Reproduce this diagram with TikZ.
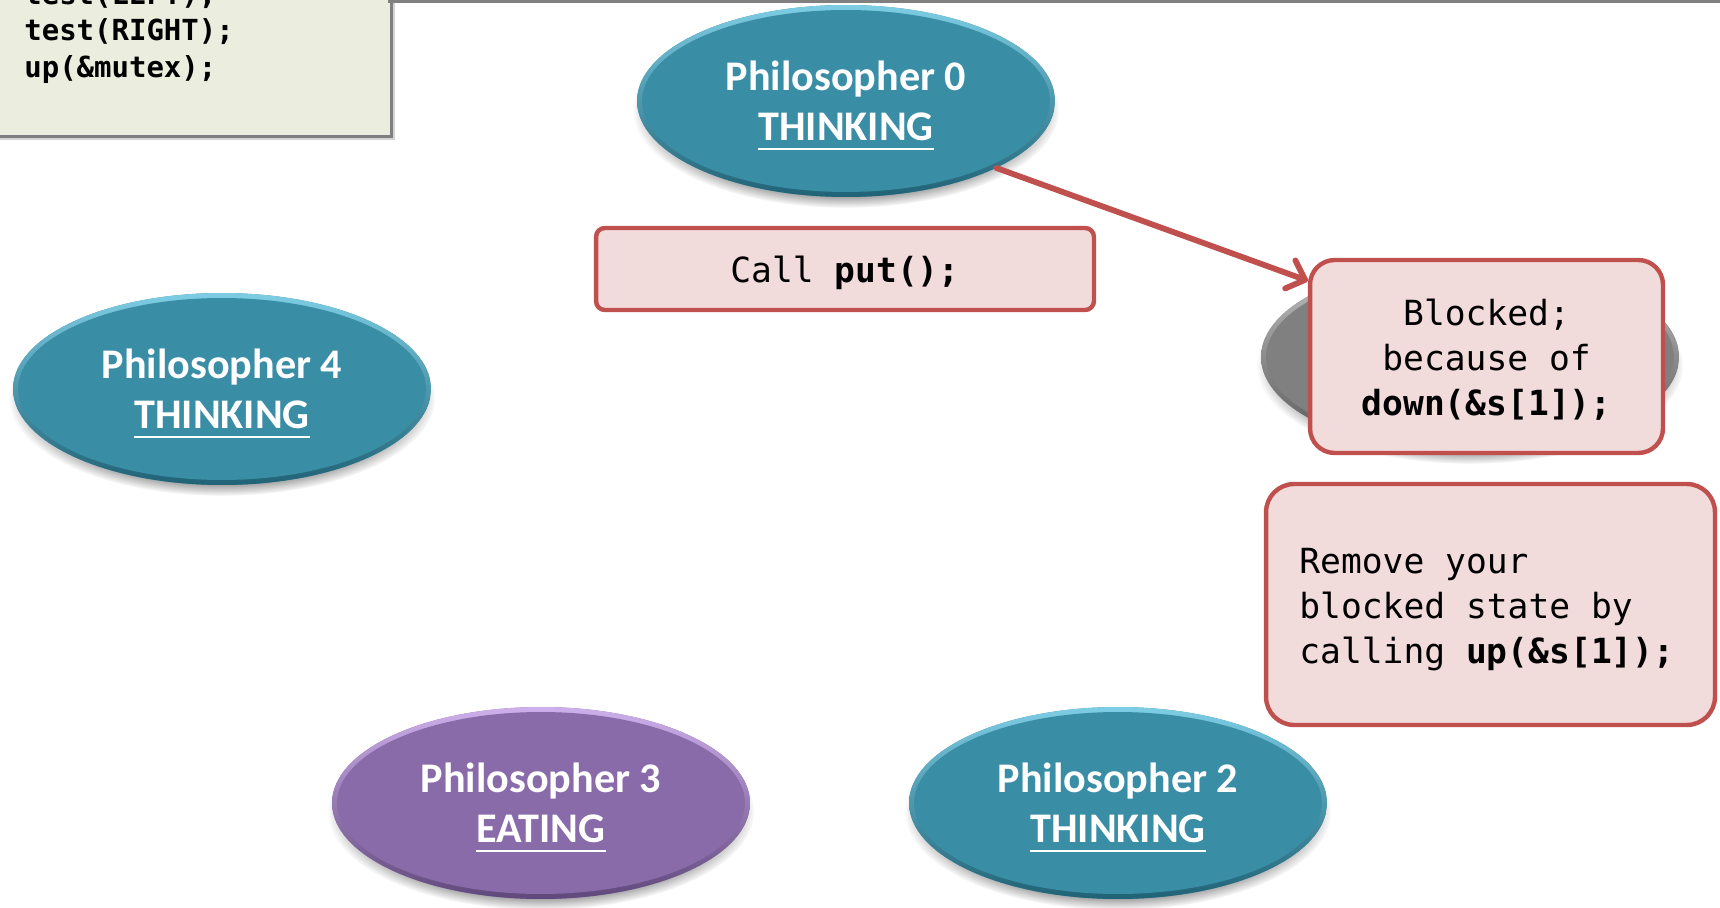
\documentclass[tikz,border=0pt]{standalone}
\usepackage{fontspec}
\setmainfont{Carlito}
\setmonofont{DejaVu Sans Mono}
\usetikzlibrary{shapes.geometric,arrows.meta,shadows,fadings}

\definecolor{tealmid}{RGB}{57,142,166}
\definecolor{teallight}{RGB}{125,205,228}
\definecolor{tealdark}{RGB}{32,98,118}
\definecolor{purplemid}{RGB}{138,107,170}
\definecolor{purplelight}{RGB}{205,175,235}
\definecolor{purpledark}{RGB}{96,72,124}
\definecolor{greymid}{RGB}{128,128,128}
\definecolor{greylight}{RGB}{195,195,195}
\definecolor{greydark}{RGB}{85,85,85}
\definecolor{boxred}{RGB}{192,80,77}
\definecolor{boxpink}{RGB}{242,220,219}
\definecolor{codegreen}{RGB}{235,238,222}

% underlined state word
\newcommand{\ulstate}[1]{\setbox0\hbox{#1}\rlap{\usebox0}\smash{\rule[-5.1pt]{\wd0}{1.1pt}}}

\tikzset{
  philo/.style n args={3}{ellipse, minimum width=8.36cm, minimum height=3.84cm,
    inner sep=0pt, fill=#1, text=white, align=center,
    font=\fontsize{24}{28.5}\selectfont\bfseries,
    general shadow={shadow yshift=-5pt, shadow scale=1.02, opacity=.45,
      fill=black, path fading={circle with fuzzy edge 15 percent}},
    path picture={
      \shade[top color=#2, bottom color=#3]
        (path picture bounding box.north west) rectangle (path picture bounding box.south east);
      \fill[#1] (path picture bounding box.center) ellipse [x radius=4.08cm, y radius=1.82cm];
    }},
  notebox/.style={draw=boxred, line width=2.5pt, fill=boxpink, rounded corners=#1, inner sep=0pt},
  notetext/.style={inner sep=0pt, text=black, font=\fontsize{19.7}{25.6}\selectfont\ttfamily},
  codebox/.style={draw=greymid, line width=1.7pt, fill=codegreen,
    drop shadow={shadow xshift=2pt, shadow yshift=-2pt, opacity=.35}},
  codetext/.style={inner sep=0pt, align=left, text=black,
    font=\fontsize{16.5}{21}\selectfont\ttfamily\bfseries},
  callarrow/.style={line width=3.3pt, boxred, line cap=round,
    -{Straight Barb[length=9pt 0, width=17pt 0, round]}}
}

\begin{document}
\begin{tikzpicture}[x=0.02cm, y=-0.02cm]
  \clip (0,0) rectangle (1720,908);

  % code fragment in the corner and the rule along the top
  \node[codebox, minimum width=8.08cm, minimum height=3.14cm] (code) at (190,58.5) {};
  \node[codetext, anchor=west] (lines) at (24,33) {test(LEFT);\\test(RIGHT);\\up(\&mutex);};
  \fill[greymid] (388,0) rectangle (1720,3.5);

  % the five philosophers
  \node[philo={tealmid}{teallight}{tealdark}] (p0) at (846,101) {Philosopher 0\\\ulstate{THINKING}};
  \node[philo={greymid}{greylight}{greydark}] (p1) at (1470,357) {};
  \node[philo={tealmid}{teallight}{tealdark}] (p2) at (1118,803) {Philosopher 2\\\ulstate{THINKING}};
  \node[philo={purplemid}{purplelight}{purpledark}] (p3) at (541,803) {Philosopher 3\\\ulstate{EATING}};
  \node[philo={tealmid}{teallight}{tealdark}] (p4) at (222,389) {Philosopher 4\\\ulstate{THINKING}};

  % notes
  \node[notebox=5pt, minimum width=9.96cm, minimum height=1.64cm] (call) at (845,269) {};
  \node[notetext] (calltxt) at (845,272.5) {Call \textbf{put();}};

  \node[notebox=14pt, minimum width=7.06cm, minimum height=3.86cm] (blk) at (1486.5,356.5) {};
  \node[notetext, align=center] (blktxt) at (1486.5,360)
    {Blocked;\\because of\\\textbf{down(\&s[1]);}};

  \node[notebox=16pt, minimum width=8.98cm, minimum height=4.82cm] (rem) at (1490.5,604.5) {};
  \node[notetext, align=flush left, anchor=west] (remtxt) at (1299,610)
    {Remove your\\blocked state by\\calling \textbf{up(\&s[1]);}};

  \draw[callarrow] (p0.-24.5) -- ([yshift=-0.46cm]blk.north west);
\end{tikzpicture}
\end{document}
